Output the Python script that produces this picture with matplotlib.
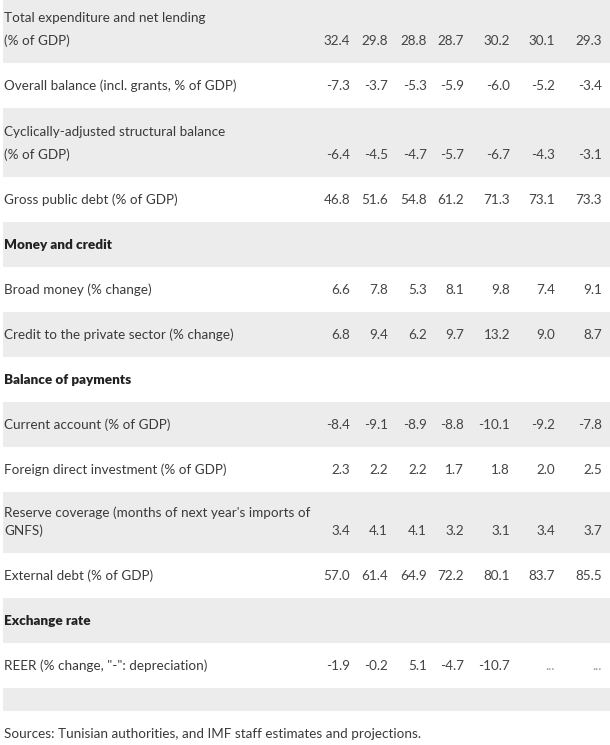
import matplotlib
matplotlib.use("Agg")
import matplotlib.pyplot as plt
from matplotlib.patches import Rectangle

# Table content
labels = [
    "Total expenditure and net lending\n(% of GDP)",
    "Overall balance (incl. grants, % of GDP)",
    "Cyclically-adjusted structural balance\n(% of GDP)",
    "Gross public debt (% of GDP)",
    "Money and credit",
    "Broad money (% change)",
    "Credit to the private sector (% change)",
    "Balance of payments",
    "Current account (% of GDP)",
    "Foreign direct investment (% of GDP)",
    "Reserve coverage (months of next year's imports of\nGNFS)",
    "External debt (% of GDP)",
    "Exchange rate",
    "REER (% change, \"-\": depreciation)",
    "",
]
is_header = [False, False, False, False, True, False, False, True,
             False, False, False, False, True, False, False]

values = [
    ["32.4", "29.8", "28.8", "28.7", "30.2", "30.1", "29.3"],
    ["-7.3", "-3.7", "-5.3", "-5.9", "-6.0", "-5.2", "-3.4"],
    ["-6.4", "-4.5", "-4.7", "-5.7", "-6.7", "-4.3", "-3.1"],
    ["46.8", "51.6", "54.8", "61.2", "71.3", "73.1", "73.3"],
    [],
    ["6.6", "7.8", "5.3", "8.1", "9.8", "7.4", "9.1"],
    ["6.8", "9.4", "6.2", "9.7", "13.2", "9.0", "8.7"],
    [],
    ["-8.4", "-9.1", "-8.9", "-8.8", "-10.1", "-9.2", "-7.8"],
    ["2.3", "2.2", "2.2", "1.7", "1.8", "2.0", "2.5"],
    ["3.4", "4.1", "4.1", "3.2", "3.1", "3.4", "3.7"],
    ["57.0", "61.4", "64.9", "72.2", "80.1", "83.7", "85.5"],
    [],
    ["-1.9", "-0.2", "5.1", "-4.7", "-10.7", "...", "..."],
    [],
]
source_note = "Sources: Tunisian authorities, and IMF staff estimates and projections."

# layout (pixels)
row_heights = [63, 45, 69, 45, 45, 45, 45, 45, 45, 45, 61, 45, 45, 45, 23]
line_gap = [23, 0, 23, 0, 0, 0, 0, 0, 0, 0, 18, 0, 0, 0, 0]
col_right = [350, 388, 427, 464, 510, 555, 602]

W, H = 610, 745
fig = plt.figure(figsize=(W / 100, H / 100), dpi=100)
ax = fig.add_axes([0, 0, 1, 1])
ax.set_xlim(0, W)
ax.set_ylim(H, 0)
ax.axis("off")

font = "Lato"
fs = 9.7
txt_col = "#3a3a3a"
num_col = "#444444"

top = 0
for i, h in enumerate(row_heights):
    bottom = top + h
    if i % 2 == 0:
        ax.add_patch(Rectangle((3, top), W - 3, h, color="#ececec", lw=0))
    base = bottom - 22
    lines = labels[i].split("\n") if labels[i] else []
    if is_header[i]:
        ax.text(4, base, lines[0], ha="left", va="center", fontsize=fs,
                fontweight="heavy", color="#222222", family=font)
    elif lines:
        if len(lines) == 2:
            ax.text(4, base - line_gap[i], lines[0], ha="left", va="center",
                    fontsize=fs, color=txt_col, family=font)
        ax.text(4, base, lines[-1], ha="left", va="center", fontsize=fs,
                color=txt_col, family=font)
    for x, v in zip(col_right, values[i]):
        c = "#999999" if v == "..." else num_col
        ax.text(x, base, v, ha="right", va="center", fontsize=fs,
                color=c, family=font)
    top = bottom

ax.text(4, 734, source_note, ha="left", va="center", fontsize=fs,
        color=txt_col, family=font)

fig.savefig("out.png", dpi=100)
